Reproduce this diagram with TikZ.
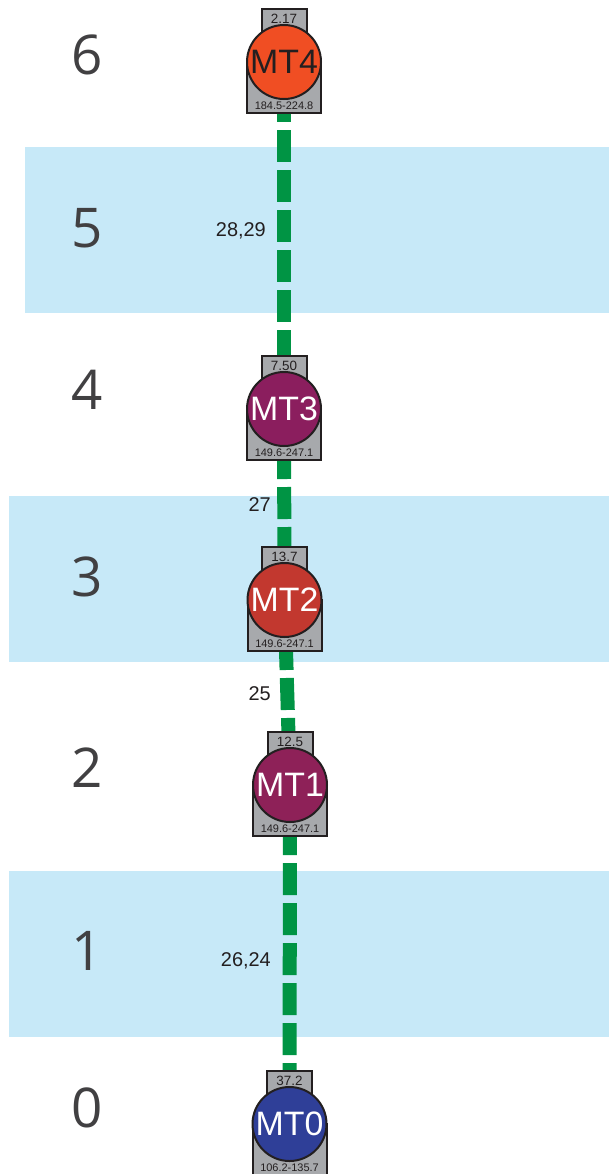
\documentclass[tikz,border=0pt]{standalone}
\usepackage{fontspec}
\setmainfont{Liberation Sans}
\newfontfamily\rowfont{Open Sans}
\definecolor{bandc}{HTML}{C7E9F8}
\definecolor{greenc}{HTML}{009444}
\definecolor{boxgray}{HTML}{A7A9AC}
\definecolor{bordc}{HTML}{231F20}
\definecolor{rowc}{HTML}{414042}
\definecolor{cfour}{HTML}{F04E23}
\definecolor{cthree}{HTML}{8B1E5E}
\definecolor{ctwo}{HTML}{C2382F}
\definecolor{cone}{HTML}{8E2158}
\definecolor{czero}{HTML}{2F3F98}
\pgfdeclarelayer{bg}
\pgfdeclarelayer{edges}
\pgfsetlayers{bg,edges,main}
\tikzset{
  mtcircle/.style={circle, draw=bordc, line width=2bp, minimum size=74bp, inner sep=0pt, font=\fontsize{34}{34}\selectfont},
  topbox/.style={rectangle, draw=bordc, fill=boxgray, line width=2bp, minimum width=45bp, minimum height=30bp, inner sep=0pt},
  bodybox/.style={rectangle, draw=bordc, fill=boxgray, line width=2bp, minimum width=74bp, minimum height=51bp, inner sep=0pt},
  toptext/.style={inner sep=0pt, text=bordc, font=\fontsize{13.5}{13.5}\selectfont},
  bottext/.style={inner sep=0pt, text=bordc, font=\fontsize{11}{11}\selectfont},
  rowlab/.style={inner sep=0pt, text=rowc, font=\rowfont\fontsize{55}{55}\selectfont},
  edgelab/.style={inner sep=0pt, anchor=east, text=bordc, font=\fontsize{20}{20}\selectfont},
  edgeline/.style={draw=greenc, line width=14bp, dash pattern=on 32bp off 8bp},
  band/.style={fill=bandc}
}
\newcommand\mtnode[8]{%
  \node[bodybox] (#1b) at (#2,#3+25.5) {};
  \node[topbox] (#1t) at (#2,#3-38) {};
  \node[toptext] (#1tl) at (#2,#3-43) {#7};
  \node[bottext] (#1bl) at (#2,#3+44) {#8};
  \node[mtcircle, fill=#4, text=#5] (#1) at (#2,#3) {#6};
}
\begin{document}
\begin{tikzpicture}[x=1bp,y=-1bp]
\useasboundingbox (0,0) rectangle (609,1174);
\begin{pgfonlayer}{bg}
\fill[band] (25,147) rectangle (609,313);
\fill[band] (9,496) rectangle (609,662);
\fill[band] (9,871) rectangle (609,1037);
\end{pgfonlayer}
\node[rowlab] (r6) at (87,55) {6};
\node[rowlab] (r5) at (87,228) {5};
\node[rowlab] (r4) at (87,390) {4};
\node[rowlab] (r3) at (87,577) {3};
\node[rowlab] (r2) at (87,768) {2};
\node[rowlab] (r1) at (87,951) {1};
\node[rowlab] (r0) at (87,1108) {0};
\mtnode{mt4}{284}{62}{cfour}{bordc}{MT4}{2.17}{184.5-224.8}
\mtnode{mt3}{284}{409}{cthree}{white}{MT3}{7.50}{149.6-247.1}
\mtnode{mt2}{284.5}{600}{ctwo}{white}{MT2}{13.7}{149.6-247.1}
\mtnode{mt1}{290}{785}{cone}{white}{MT1}{12.5}{149.6-247.1}
\mtnode{mt0}{289.5}{1124}{czero}{white}{MT0}{37.2}{106.2-135.7}
\begin{pgfonlayer}{edges}
\draw[edgeline, dash phase=10bp] (mt4) -- (mt3);
\draw[edgeline] (mt3) -- (mt2);
\draw[edgeline] (mt2) -- (mt1);
\draw[edgeline] (mt1) -- (mt0);
\end{pgfonlayer}
\node[edgelab] (l1) at (266,231) {28,29};
\node[edgelab] (l2) at (271,505) {27};
\node[edgelab] (l3) at (271,694) {25};
\node[edgelab] (l4) at (271,961) {26,24};
\end{tikzpicture}
\end{document}
